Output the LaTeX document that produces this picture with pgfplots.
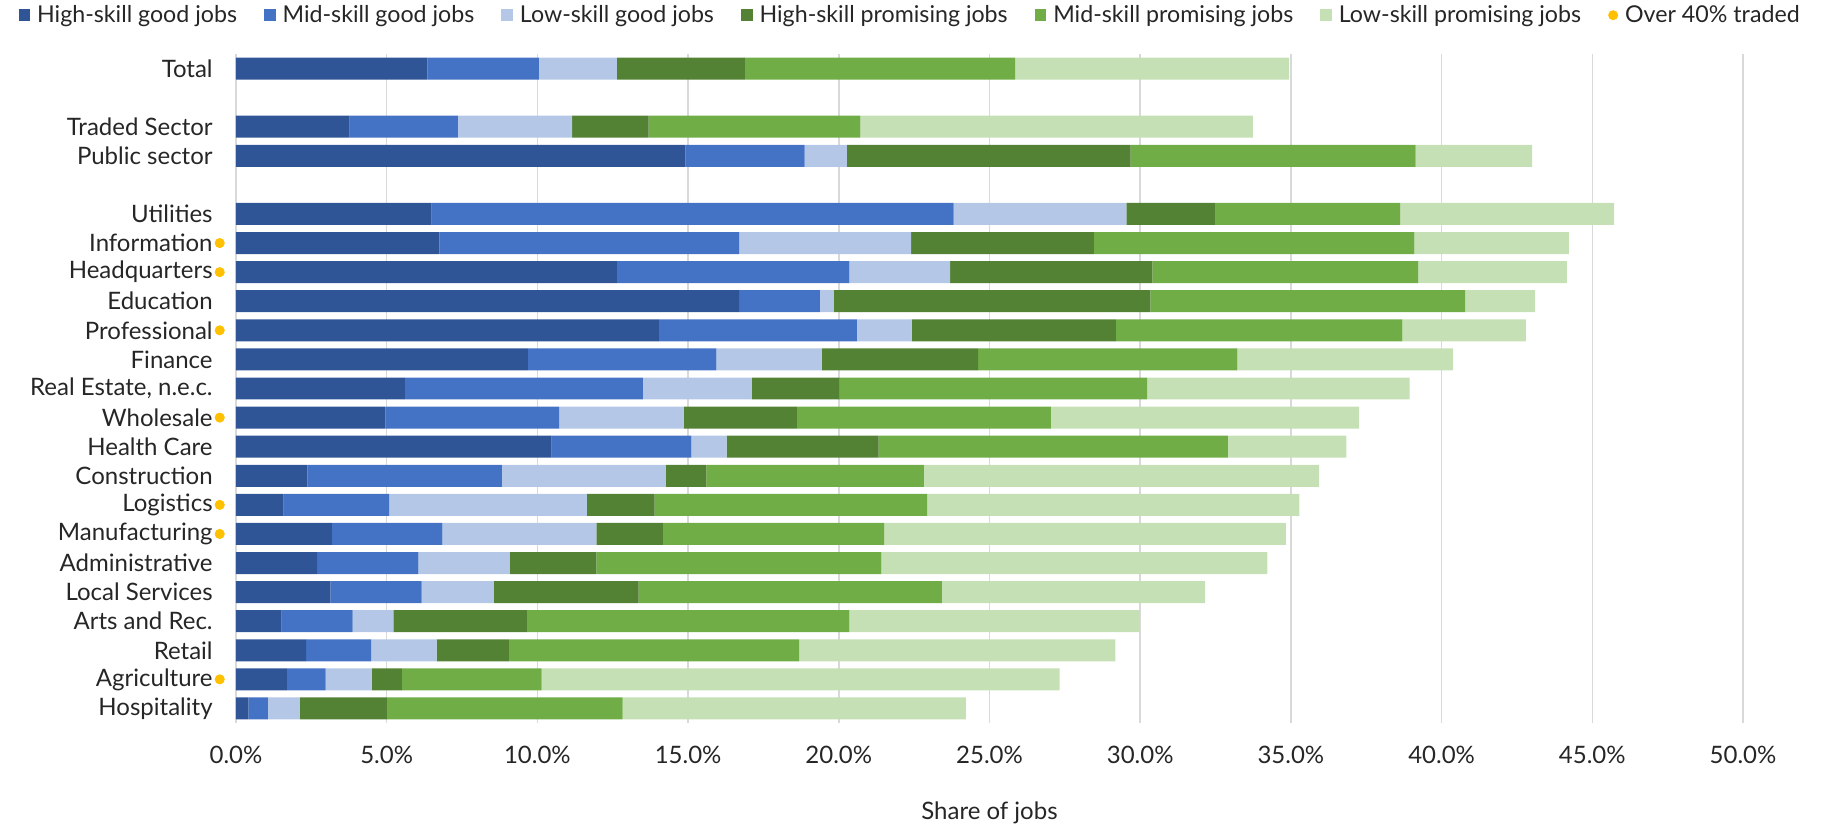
\documentclass[border=0pt]{standalone}
\usepackage{pgfplots}
\pgfplotsset{compat=1.18}
\usepackage{pgfplotstable}
\usepackage{fontspec}
\setmainfont{Lato}
\definecolor{c1}{HTML}{2F5597}
\definecolor{c2}{HTML}{4472C4}
\definecolor{c3}{HTML}{B4C7E7}
\definecolor{c4}{HTML}{548235}
\definecolor{c5}{HTML}{70AD47}
\definecolor{c6}{HTML}{C5E0B4}
\definecolor{dotc}{HTML}{FFC000}
\definecolor{gridc}{HTML}{D9D9D9}
\definecolor{txt}{HTML}{262626}

\pgfplotstableread{
y s1 s2 s3 s4 s5 s6
0 6.35 3.70 2.59 4.24 8.97 9.09
2 3.77 3.59 3.79 2.54 7.03 13.02
3 14.91 3.96 1.40 9.41 9.46 3.86
5 6.49 17.32 5.73 2.96 6.12 7.10
6 6.75 9.94 5.71 6.06 10.64 5.12
7 12.64 7.71 3.34 6.71 8.82 4.94
8 16.69 2.68 0.47 10.50 10.44 2.32
9 14.03 6.57 1.82 6.77 9.51 4.10
10 9.68 6.26 3.49 5.19 8.60 7.16
11 5.60 7.90 3.62 2.91 10.20 8.71
12 4.96 5.76 4.13 3.76 8.43 10.22
13 10.47 4.64 1.17 5.04 11.59 3.93
14 2.37 6.45 5.44 1.35 7.21 13.12
15 1.58 3.50 6.56 2.25 9.04 12.35
16 3.18 3.67 5.11 2.20 7.34 13.33
17 2.69 3.36 3.04 2.87 9.45 12.81
18 3.13 3.03 2.40 4.80 10.06 8.73
19 1.51 2.36 1.35 4.43 10.70 9.63
20 2.33 2.15 2.18 2.39 9.63 10.50
21 1.69 1.28 1.53 1.00 4.64 17.19
22 0.41 0.65 1.06 2.91 7.80 11.39
}\jobsdata

\pgfplotstableread{
x y
-0.54 6
-0.54 7
-0.54 9
-0.54 12
-0.54 15
-0.54 16
-0.54 21
}\tradeddata

\begin{document}
\begin{tikzpicture}
\useasboundingbox (-118pt,-52.5pt) rectangle (792.5pt,361.5pt);
\begin{axis}[
  at={(0pt,0pt)}, anchor=south west,
  scale only axis, width=753.5pt, height=334.5pt,
  xmin=0, xmax=50, ymin=-0.5, ymax=22.5, y dir=reverse,
  xbar stacked, bar width=0.756,
  clip=false,
  axis line style={draw=none}, tick style={draw=none},
  xmajorgrids, grid style={line width=0.8pt, color=gridc},
  /pgf/number format/assume math mode=true,
  xtick={0,5,...,50},
  xticklabel={\pgfmathprintnumber[fixed,fixed zerofill,precision=1]{\tick}\%},
  xticklabel style={anchor=center, inner sep=0pt, yshift=-16pt, font=\fontsize{12}{14}\selectfont, text=txt},
  ytick={0,2,3,5,6,7,8,9,10,11,12,13,14,15,16,17,18,19,20,21,22},
  yticklabels={Total, Traded Sector, Public sector, Utilities, Information, Headquarters, Education, Professional, Finance, {Real Estate, n.e.c.}, Wholesale, Health Care, Construction, Logistics, Manufacturing, Administrative, Local Services, Arts and Rec., Retail, Agriculture, Hospitality},
  yticklabel style={anchor=east, inner sep=0pt, xshift=-11.5pt, font=\fontsize{12}{14}\selectfont, text=txt},
  xlabel={Share of jobs},
  xlabel style={at={(axis description cs:0.5,0)}, anchor=center, yshift=-45pt, font=\fontsize{12}{14}\selectfont, text=txt},
  legend columns=7,
  legend style={at={(axis description cs:0.449,1.058)}, anchor=center, draw=none, fill=none,
    font=\fontsize{11.6}{14}\selectfont, text=txt, inner sep=0pt,
    nodes={inner xsep=3.5pt},
    /tikz/every even column/.append style={column sep=10pt}},
  legend cell align=left,
]
\addplot[fill=c1, draw=none, legend image code/.code={\fill[c1] (0pt,-2.9pt) rectangle (5.8pt,2.9pt);}] table[x=s1, y=y] {\jobsdata};
\addlegendentry{High-skill good jobs}
\addplot[fill=c2, draw=none, legend image code/.code={\fill[c2] (0pt,-2.9pt) rectangle (5.8pt,2.9pt);}] table[x=s2, y=y] {\jobsdata};
\addlegendentry{Mid-skill good jobs}
\addplot[fill=c3, draw=none, legend image code/.code={\fill[c3] (0pt,-2.9pt) rectangle (5.8pt,2.9pt);}] table[x=s3, y=y] {\jobsdata};
\addlegendentry{Low-skill good jobs}
\addplot[fill=c4, draw=none, legend image code/.code={\fill[c4] (0pt,-2.9pt) rectangle (5.8pt,2.9pt);}] table[x=s4, y=y] {\jobsdata};
\addlegendentry{High-skill promising jobs}
\addplot[fill=c5, draw=none, legend image code/.code={\fill[c5] (0pt,-2.9pt) rectangle (5.8pt,2.9pt);}] table[x=s5, y=y] {\jobsdata};
\addlegendentry{Mid-skill promising jobs}
\addplot[fill=c6, draw=none, legend image code/.code={\fill[c6] (0pt,-2.9pt) rectangle (5.8pt,2.9pt);}] table[x=s6, y=y] {\jobsdata};
\addlegendentry{Low-skill promising jobs}
\addplot[stack plots=false, sharp plot, only marks, mark=*, mark size=2.3pt, color=dotc, draw=none, fill=dotc,
  mark options={draw=none, fill=dotc},
  legend image code/.code={\fill[dotc] (2.9pt,0pt) circle (2.5pt);}] table[x=x, y=y] {\tradeddata};
\addlegendentry{Over 40\% traded}
\end{axis}
\end{tikzpicture}
\end{document}
